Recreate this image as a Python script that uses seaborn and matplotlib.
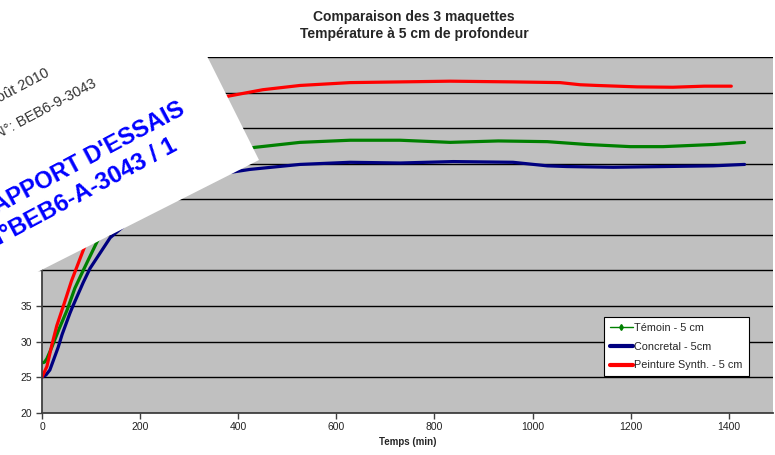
import matplotlib
matplotlib.use("Agg")
import numpy as np
import pandas as pd
import matplotlib.pyplot as plt
import seaborn as sns
from matplotlib.lines import Line2D
from matplotlib.patches import Polygon

# temps (min) et temperatures
t_temoin = [0, 5, 10, 20, 35, 51, 67, 84, 112, 140, 170, 200, 250, 300, 350, 393,
            434, 526, 628, 730, 832, 930, 1030, 1111, 1199, 1266, 1368, 1432]
temoin = [27.0, 27.1, 27.6, 29.2, 31.8, 34.4, 37.5, 40.0, 44.0, 47.5, 50.5, 52.5,
          54.5, 55.7, 56.4, 56.8, 57.3, 58.0, 58.3, 58.3, 58.0, 58.2, 58.1, 57.7,
          57.4, 57.4, 57.7, 58.0]

t_concretal = [0, 8, 16, 33, 41, 57, 63, 84, 98, 139, 173, 200, 250, 281, 320, 357,
               424, 526, 628, 730, 838, 960, 1030, 1070, 1164, 1266, 1368, 1432]
concretal = [25.0, 25.3, 26.0, 29.2, 31.0, 34.0, 35.0, 38.3, 40.3, 44.6, 46.6, 48.0,
             50.0, 51.0, 52.6, 53.5, 54.2, 54.9, 55.2, 55.1, 55.3, 55.2, 54.7, 54.6,
             54.5, 54.6, 54.7, 54.9]

t_peinture = [0, 10, 20, 30, 45, 60, 85, 100, 130, 160, 200, 250, 300, 340, 380, 450,
              526, 628, 730, 832, 960, 1056, 1097, 1131, 1213, 1286, 1350, 1405]
peinture = [25.0, 26.5, 29.5, 32.2, 35.3, 38.5, 43.0, 45.5, 49.5, 53.0, 56.5, 60.0,
            62.5, 63.7, 64.5, 65.4, 66.0, 66.4, 66.5, 66.6, 66.5, 66.4, 66.1, 66.0,
            65.8, 65.75, 65.9, 65.9]

series = ["Témoin - 5 cm", "Concretal - 5cm", "Peinture Synth. - 5 cm"]
colors = ["#008000", "#000080", "#FF0000"]

df = pd.concat([
    pd.DataFrame({"Temps": t_temoin, "T": temoin, "serie": series[0]}),
    pd.DataFrame({"Temps": t_concretal, "T": concretal, "serie": series[1]}),
    pd.DataFrame({"Temps": t_peinture, "T": peinture, "serie": series[2]}),
], ignore_index=True)

sns.set_style("white")
plt.rcParams["font.family"] = ["Liberation Sans", "DejaVu Sans"]

W, H = 775, 455
fig = plt.figure(figsize=(W / 100, H / 100), dpi=100)
ax = fig.add_axes([42 / W, 1 - 412.7 / H, 731 / W, 355.7 / H])
ax.set_facecolor("#C0C0C0")

sns.lineplot(data=df, x="Temps", y="T", hue="serie", palette=dict(zip(series, colors)),
             lw=2.3, ax=ax, legend=False, sort=False, estimator=None)

ax.set_xlim(0, 1490)
ax.set_ylim(20, 70)
ax.set_xticks(range(0, 1401, 200))
ax.set_yticks(range(20, 71, 5))
ax.yaxis.grid(True, color="black", lw=1)
ax.set_axisbelow(True)
for s in ["top", "right"]:
    ax.spines[s].set_visible(False)
for s in ["left", "bottom"]:
    ax.spines[s].set_color("#404040")
    ax.spines[s].set_linewidth(1.3)
ax.tick_params(axis="both", direction="out", length=4, width=1, color="#404040",
               labelsize=7.5, labelcolor="#222222", pad=3, bottom=True, left=True)
ax.set_xlabel("Temps (min)", fontsize=7, fontweight="bold", labelpad=3)
ax.set_ylabel("")
ax.set_title("Comparaison des 3 maquettes\nTempérature à 5 cm de profondeur",
             fontsize=10, fontweight="bold", pad=14, x=0.509, linespacing=1.25)

handles = [
    Line2D([], [], color=colors[0], lw=1, marker="d", ms=3),
    Line2D([], [], color=colors[1], lw=3),
    Line2D([], [], color=colors[2], lw=3),
]
leg = ax.legend(handles, series, loc="upper left", bbox_to_anchor=(0.769, 0.269),
                borderaxespad=0, fontsize=7.8, frameon=True, fancybox=False,
                handlelength=2.1, handletextpad=0.15, labelspacing=0.8,
                borderpad=0.55, framealpha=1)
leg.get_frame().set_edgecolor("black")
leg.get_frame().set_linewidth(0.8)


def fx(x):
    return x / W


def fy(y):
    return 1 - y / H


# feuille de rapport posee sur le coin du graphique
paper = Polygon([(fx(-10), fy(296)), (fx(259), fy(160)), (fx(169), fy(-20)), (fx(-10), fy(-20))],
                closed=True, transform=fig.transFigure, facecolor="white",
                edgecolor="none", zorder=5)
fig.patches.append(paper)

rot = 28
fig.text(fx(50), fy(75), "Août 2010", rotation=rot, rotation_mode="anchor",
         ha="right", va="baseline", fontsize=10.5, color="#333333", zorder=6)
fig.text(fx(97), fy(86), "N°: BEB6-9-3043", rotation=rot, rotation_mode="anchor",
         ha="right", va="baseline", fontsize=10.5, color="#333333", zorder=6)
fig.text(fx(186), fy(113), "RAPPORT D'ESSAIS", rotation=rot, rotation_mode="anchor",
         ha="right", va="baseline", fontsize=17, fontweight="bold", color="#0000FF", zorder=6)
fig.text(fx(178), fy(150), "N°BEB6-A-3043 / 1", rotation=rot, rotation_mode="anchor",
         ha="right", va="baseline", fontsize=17.5, fontweight="bold", color="#0000FF", zorder=6)

fig.savefig("out.png", dpi=100)
